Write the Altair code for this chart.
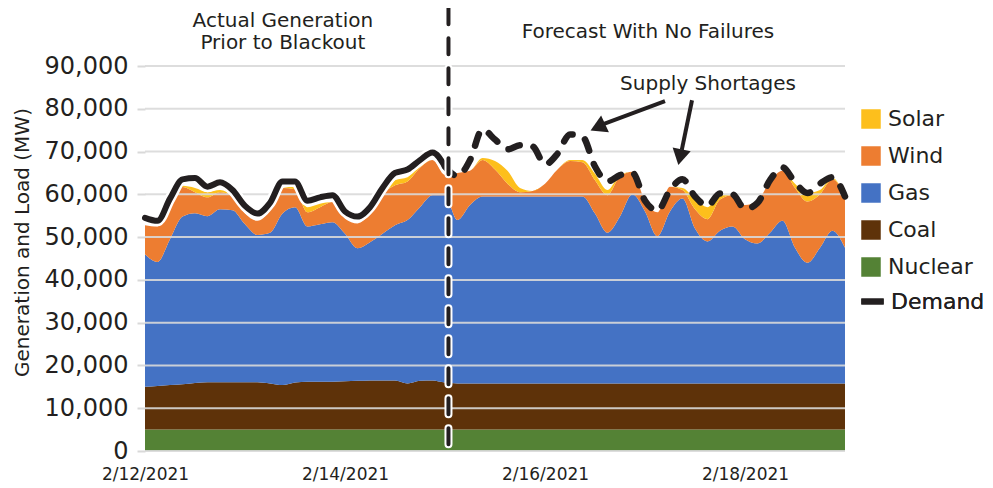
import altair as alt
import pandas as pd

FONT = "DejaVu Sans"
INK = "#231F20"

# 3-hourly samples, 2/12/2021 00:00 .. 2/19/2021 00:00 (57 points)
start = pd.Timestamp("2021-02-12 00:00")
times = [(start + pd.Timedelta(hours=3 * i)).strftime("%Y-%m-%dT%H:%M:%S") for i in range(57)]

demand = [54500, 53800, 59000, 63500, 63800, 61800, 62800, 61000, 57300, 55500,
          58000, 63000, 63000, 58500, 59300, 59800, 56000, 54800, 57000, 61500,
          65000, 65800, 68000, 69800, 66500, 64300, 68000, 75200, 72800, 70500,
          71500, 71200, 67000, 69500, 74000, 73500, 66500, 63000, 64500, 65000,
          58500, 56200, 61000, 63500, 59500, 57300, 60200, 60000, 56600, 58000,
          63300, 66300, 62800, 60300, 62500, 64000, 59500]

total_gen = [52800, 52500, 57500, 62000, 61500, 60500, 61000, 59500, 55500, 53800,
             56200, 61500, 61800, 57000, 57800, 58200, 54300, 53200, 55500, 60000,
             63300, 64000, 66500, 68000, 64500, 65000, 65500, 68500, 67800, 65500,
             61500, 60800, 62500, 65800, 68000, 68000, 64800, 61000, 64500, 65300,
             58500, 55800, 61800, 61500, 59000, 57000, 59800, 59800, 57500, 58500,
             63000, 65500, 62500, 60300, 61000, 63800, 59500]

solar = [0, 0, 0, 300, 1000, 1200, 500, 0, 0, 0,
         0, 0, 600, 1200, 800, 0, 0, 0, 0, 0,
         1200, 1000, 300, 0, 0, 0, 0, 500, 2000, 3000,
         1000, 0, 0, 0, 200, 500, 1500, 1200, 300, 0,
         0, 0, 0, 500, 2500, 2800, 1000, 0, 0, 0,
         0, 0, 1000, 2000, 1000, 300, 0]

gas_top = [46000, 44200, 49500, 54800, 55600, 54900, 56500, 56300, 53000, 50500,
           51000, 55500, 57000, 52500, 53000, 53500, 50800, 47400, 48800, 50800,
           52800, 54000, 57000, 59800, 59800, 54000, 57500, 59500, 59500, 59500,
           59500, 59500, 59500, 59500, 59500, 59500, 55500, 51000, 54800, 60000,
           56000, 50200, 56000, 59000, 52000, 49000, 51500, 52500, 49500, 48500,
           51000, 53800, 47500, 44000, 47500, 51500, 47500]

coal_top = [15000, 15200, 15400, 15600, 15900, 16100, 16100, 16100, 16100, 16100,
            15800, 15400, 16000, 16200, 16200, 16200, 16300, 16400, 16500, 16500,
            16500, 15800, 16400, 16500, 16000, 15800, 15800, 15800, 15800, 15800,
            15800, 15800, 15800, 15800, 15800, 15800, 15800, 15800, 15800, 15800,
            15800, 15800, 15800, 15800, 15800, 15800, 15800, 15800, 15800, 15800,
            15800, 15800, 15800, 15800, 15800, 15800, 15800]

nuclear = [5000, 5000, 5000, 5000, 5000, 5000, 5000, 5000, 5000, 5000,
           5000, 5000, 5000, 5000, 5000, 5000, 5000, 5000, 5000, 5000,
           5000, 5000, 5000, 5000, 5000, 5000, 5000, 5000, 5000, 5000,
           5000, 5000, 5000, 5000, 5000, 5000, 5000, 5000, 5000, 5000,
           5000, 5000, 5000, 5000, 5000, 5000, 5000, 5000, 5000, 5000,
           5000, 5000, 5000, 5000, 5000, 5000, 5000]

legend_sources = ["Solar", "Wind", "Gas", "Coal", "Nuclear"]
source_colors = ["#FDBF1C", "#ED7D31", "#4472C4", "#5E3209", "#548235"]
y_ticks = [0, 10000, 20000, 30000, 40000, 50000, 60000, 70000, 80000, 90000]
blackout_time = "2021-02-15T00:50:00"

# ---- tables ----
rows = []
for i, t in enumerate(times):
    parts = {
        "Nuclear": nuclear[i],
        "Coal": coal_top[i] - nuclear[i],
        "Gas": gas_top[i] - coal_top[i],
        "Wind": total_gen[i] - solar[i] - gas_top[i],
        "Solar": solar[i],
    }
    for k, (name, v) in enumerate(parts.items()):
        rows.append({"time": t, "source": name, "value": v, "ord": k})
df_area = pd.DataFrame(rows)

split = 24
df_solid = pd.DataFrame({"time": times[:split + 1], "value": demand[:split + 1], "series": "Demand"})
df_dash = pd.DataFrame({"time": times[split:], "value": demand[split:], "series": "Demand"})
df_grid = pd.DataFrame({"value": y_ticks})
df_vline = pd.DataFrame({"time": [blackout_time], "value": [103500], "value2": [1500]})

df_text = pd.DataFrame({
    "time": ["2021-02-13T09:05:00", "2021-02-13T09:05:00", "2021-02-17T00:43:00", "2021-02-17T15:07:00"],
    "value": [100600, 95300, 97900, 85700],
    "label": ["Actual Generation", "Prior to Blackout", "Forecast With No Failures", "Supply Shortages"],
})
df_arrow = pd.DataFrame({
    "time": ["2021-02-17T04:48:00", "2021-02-17T11:17:00"],
    "value": [81800, 82000],
    "time2": ["2021-02-16T14:00:00", "2021-02-17T08:50:00"],
    "value2": [76400, 70400],
})
df_head = pd.DataFrame({
    "time": ["2021-02-16T12:40:00", "2021-02-17T08:24:00"],
    "value": [75700, 68700],
    "ang": [245, 192],
})

# ---- scales ----
x_scale = alt.Scale(domain=[alt.DateTime(year=2021, month=2, date=12),
                            alt.DateTime(year=2021, month=2, date=19)])
y_scale = alt.Scale(domain=[0, 90000], nice=False, zero=True)

x_axis = alt.Axis(values=[alt.DateTime(year=2021, month=2, date=d) for d in (12, 14, 16, 18)],
                  format="%-m/%-d/%Y", title=None, ticks=False, domain=False, grid=False,
                  labelFlush=False, labelFont=FONT, labelFontSize=17, labelColor=INK,
                  labelPadding=15)
y_axis = alt.Axis(values=y_ticks, format=",.0f", title="Generation and Load (MW)",
                  titleFont=FONT, titleFontSize=20, titleFontWeight="normal", titleColor=INK,
                  titleX=-123, titleY=176, titleBaseline="middle", titleAlign="center",
                  labelFont=FONT, labelFontSize=24, labelColor=INK,
                  labelPadding=9, tickSize=8, tickWidth=2, tickColor="#D9D9D9",
                  labelFlush=False, domain=False, grid=False)

X = alt.X("time:T", scale=x_scale, axis=x_axis)
Y = alt.Y("value:Q", scale=y_scale, axis=y_axis)

areas = alt.Chart(df_area).mark_area(interpolate="monotone").encode(
    x=X,
    y=alt.Y("value:Q", scale=y_scale, axis=y_axis, stack="zero"),
    color=alt.Color("source:N",
                    scale=alt.Scale(domain=legend_sources, range=source_colors),
                    legend=alt.Legend(orient="none", legendX=715, legendY=42, title=None,
                                      direction="vertical", symbolType="square",
                                      symbolSize=380, symbolStrokeWidth=0, rowPadding=15,
                                      labelFont=FONT, labelFontSize=22, labelColor=INK,
                                      labelOffset=6, padding=0)),
    order=alt.Order("ord:Q", sort="ascending"),
)

grid = alt.Chart(df_grid).mark_rule(color="#D9D9D9", strokeWidth=2, opacity=0.9).encode(
    y=alt.Y("value:Q", scale=y_scale, axis=y_axis))

stroke_enc = alt.Stroke("series:N", scale=alt.Scale(domain=["Demand"], range=[INK]),
                        legend=alt.Legend(orient="none", legendX=713, legendY=221, title=None,
                                          symbolType="stroke", symbolSize=500,
                                          symbolStrokeWidth=6, labelFont=FONT,
                                          labelFontSize=22, labelColor=INK, labelOffset=4,
                                          padding=0))

halo = alt.Chart(df_solid).mark_line(interpolate="monotone", color="white", strokeWidth=11,
                                     strokeCap="round").encode(x=X, y=Y)
solid = alt.Chart(df_solid).mark_line(interpolate="monotone", strokeWidth=6,
                                      strokeCap="round").encode(x=X, y=Y, stroke=stroke_enc)
dashed = alt.Chart(df_dash).mark_line(interpolate="monotone", strokeWidth=6.5, strokeCap="round",
                                      strokeDash=[12, 14]).encode(x=X, y=Y, stroke=stroke_enc)

vline_white = alt.Chart(df_vline).mark_rule(color="white", strokeWidth=8, strokeCap="round",
                                            strokeDash=[16, 14]).encode(
    x=X, y=Y, y2="value2:Q")
vline_black = alt.Chart(df_vline).mark_rule(color=INK, strokeWidth=4, strokeCap="round",
                                            strokeDash=[16, 14]).encode(
    x=X, y=Y, y2="value2:Q")

texts = alt.Chart(df_text).mark_text(font=FONT, fontSize=20, color=INK, align="center",
                                     baseline="middle").encode(x=X, y=Y, text="label:N")
arrows = alt.Chart(df_arrow).mark_rule(color=INK, strokeWidth=4).encode(
    x=X, y=Y, x2="time2:T", y2="value2:Q")
heads = alt.Chart(df_head).mark_point(shape="triangle-up", filled=True, size=340, color=INK,
                                      opacity=1).encode(
    x=X, y=Y, angle=alt.Angle("ang:Q", scale=None))

chart = alt.layer(areas, grid, halo, solid, dashed, vline_white, vline_black,
                  texts, arrows, heads).resolve_scale(color="independent", stroke="independent").properties(
    width=700, height=385,
    padding={"left": 137, "top": 58, "right": 140, "bottom": 36},
    autosize=alt.AutoSizeParams(type="none"),
    background="white",
).configure_view(stroke=None)

chart.save("out.html", embed_options={"renderer": "svg", "actions": False})
